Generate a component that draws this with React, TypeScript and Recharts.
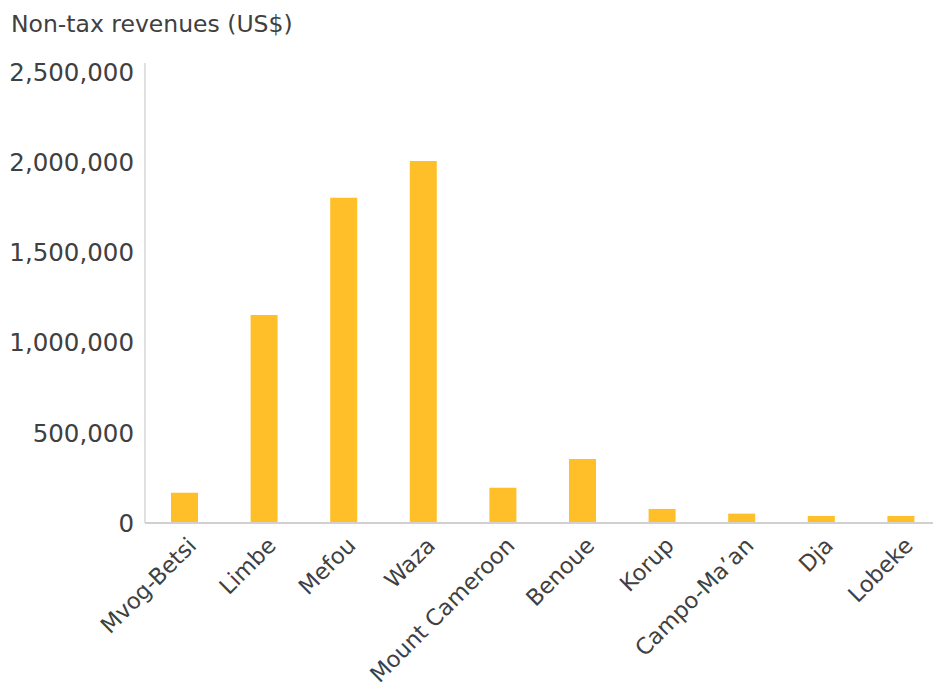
import React from "react";
import { BarChart, Bar, XAxis, YAxis } from "recharts";

const categories = [
  "Mvog-Betsi",
  "Limbe",
  "Mefou",
  "Waza",
  "Mount Cameroon",
  "Benoue",
  "Korup",
  "Campo-Ma\u2019an",
  "Dja",
  "Lobeke",
];
const revenues = [168000, 1154000, 1805000, 2009000, 196000, 355000, 78000, 52000, 39000, 39000];
const yTicks = [0, 500000, 1000000, 1500000, 2000000, 2500000];
const title = "Non-tax revenues (US$)";

const data = categories.map((name, i) => ({ name, value: revenues[i] }));

const FONT = "'DejaVu Sans', sans-serif";
const TEXT = "#404040";

const XTick = (props: any) => {
  const { x, y, payload } = props;
  const tx = x + 13;
  const ty = y + 24;
  return (
    <text
      x={tx}
      y={ty}
      transform={`rotate(-45, ${tx}, ${ty})`}
      textAnchor="end"
      fontSize={22.5}
      fontFamily={FONT}
      fill={TEXT}
    >
      {payload.value}
    </text>
  );
};

export default function App() {
  return (
    <div
      style={{
        position: "absolute",
        left: 0,
        top: 0,
        width: 933,
        height: 683,
        overflow: "hidden",
        background: "#fff",
      }}
    >
      <div
        style={{
          position: "absolute",
          left: 11,
          top: 12,
          fontFamily: FONT,
          fontSize: 23.5,
          lineHeight: "24px",
          color: TEXT,
          whiteSpace: "nowrap",
        }}
      >
        {title}
      </div>
      <BarChart
        width={941}
        height={683}
        data={data}
        margin={{ top: 63, right: 0, bottom: 0, left: 0 }}
        barCategoryGap="33%"
      >
        <XAxis
          dataKey="name"
          interval={0}
          tickLine={false}
          tickSize={0}
          tickMargin={0}
          height={160}
          axisLine={{ stroke: "#d0d0d0", strokeWidth: 2 }}
          tick={<XTick />}
        />
        <YAxis
          width={145}
          domain={[0, 2552700]}
          ticks={yTicks}
          interval={0}
          tickLine={false}
          tickSize={0}
          tickMargin={11}
          axisLine={{ stroke: "#d6d6d6", strokeWidth: 1.5 }}
          tickFormatter={(v: number) => v.toLocaleString("en-US")}
          tick={{ fontSize: 24.5, fontFamily: FONT, fill: TEXT }}
        />
        <Bar dataKey="value" fill="#FFBF28" barSize={27} isAnimationActive={false} />
      </BarChart>
    </div>
  );
}
